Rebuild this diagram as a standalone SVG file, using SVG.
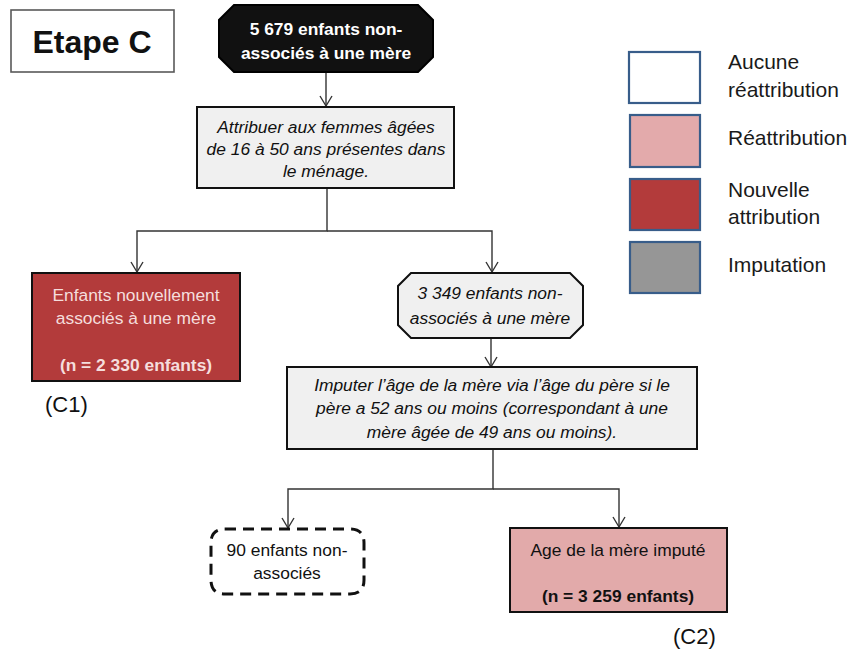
<svg xmlns="http://www.w3.org/2000/svg" width="855" height="649" viewBox="0 0 855 649">
<style>
.t{font-family:"Liberation Sans",Arial,sans-serif;font-size:17.4px;fill:#111;text-anchor:middle}
.i{font-style:italic}
.b{font-weight:bold}
.box{stroke:#111;stroke-width:2}
.leg{stroke:#385d8a;stroke-width:2.2}
.lt{font-family:"Liberation Sans",Arial,sans-serif;font-size:21px;fill:#1a1a1a}
.con{fill:none;stroke:#333;stroke-width:1.4}
.arr{marker-end:url(#arr)}
</style>
<defs>
<marker id="arr" markerUnits="userSpaceOnUse" markerWidth="14" markerHeight="16" refX="12" refY="8" orient="auto" viewBox="0 0 14 16">
<path d="M2,2 L12,8 L2,14" fill="none" stroke="#333" stroke-width="1.4"/>
</marker>
</defs>
<rect width="855" height="649" fill="#fff"/>

<g id="title">
<rect x="11" y="10" width="163" height="62" fill="#fff" stroke="#595959" stroke-width="1.6"/>
<text x="92" y="53" class="t b" style="font-size:32px">Etape C</text>
</g>

<g id="connectors">
<path class="con arr" d="M326,72 V106"/>
<path class="con arr" d="M327,188 V231 H137 V272"/>
<path class="con arr" d="M327,231 H492 V272"/>
<path class="con arr" d="M491,338 V367"/>
<path class="con arr" d="M493,449 V489 H288 V528"/>
<path class="con arr" d="M493,489 H619 V527"/>
</g>

<g id="start">
<polygon points="234,5 418,5 433,20 433,57 418,72 234,72 219,57 219,20" fill="#111" stroke="#000" stroke-width="2"/>
<text x="326" y="35" class="t b" style="fill:#fff">5 679 enfants non-</text>
<text x="326" y="59" class="t b" style="fill:#fff">associés à une mère</text>
</g>

<g id="attribuer">
<rect x="197" y="107" width="257" height="81" fill="#f0f0f0" class="box"/>
<text x="326" y="133" class="t i">Attribuer aux femmes âgées</text>
<text x="326" y="155" class="t i">de 16 à 50 ans présentes dans</text>
<text x="326" y="177" class="t i">le ménage.</text>
</g>

<g id="c1">
<rect x="32" y="273" width="208" height="108" fill="#b33b3b" class="box"/>
<text x="136" y="301" class="t" style="fill:#f5dedd">Enfants nouvellement</text>
<text x="136" y="324" class="t" style="fill:#f5dedd">associés à une mère</text>
<text x="136" y="371" class="t b" style="fill:#f5dedd">(n = 2 330 enfants)</text>
<text x="45" y="412" class="lt" style="font-size:22px;fill:#111">(C1)</text>
</g>

<g id="nonassocies">
<polygon points="411,273 570,273 583,286 583,325 570,338 411,338 398,325 398,286" fill="#f0f0f0" class="box"/>
<text x="490" y="299" class="t i">3 349 enfants non-</text>
<text x="490" y="324" class="t i">associés à une mère</text>
</g>

<g id="imputer">
<rect x="287" y="367" width="410" height="82" fill="#f0f0f0" class="box"/>
<text x="492" y="391" class="t i">Imputer l’âge de la mère via l’âge du père si le</text>
<text x="492" y="414" class="t i">père a 52 ans ou moins (correspondant à une</text>
<text x="492" y="438" class="t i">mère âgée de 49 ans ou moins).</text>
</g>

<g id="reste">
<path d="M225,529 H350 Q364,529 364,543 V580 Q364,594 350,594 H225 Q211,594 211,580 V543 Q211,529 225,529 Z" fill="#fff" stroke="#111" stroke-width="3" stroke-dasharray="11 7"/>
<text x="287" y="556" class="t">90 enfants non-</text>
<text x="287" y="579" class="t">associés</text>
</g>

<g id="c2">
<rect x="510" y="528" width="217" height="84" fill="#e2aaaa" class="box"/>
<text x="618" y="556" class="t">Age de la mère imputé</text>
<text x="618" y="602" class="t b">(n = 3 259 enfants)</text>
<text x="673" y="644" class="lt" style="font-size:22px;fill:#111">(C2)</text>
</g>

<g id="legend">
<rect x="629" y="52" width="71" height="51" fill="#fff" class="leg"/>
<rect x="630" y="115" width="70" height="52" fill="#e3aaab" class="leg"/>
<rect x="630" y="179" width="70" height="51" fill="#b33b3b" class="leg"/>
<rect x="630" y="242" width="70" height="51" fill="#969696" class="leg"/>
<text x="728" y="69" class="lt">Aucune</text>
<text x="728" y="97" class="lt">réattribution</text>
<text x="728" y="145" class="lt">Réattribution</text>
<text x="728" y="197" class="lt">Nouvelle</text>
<text x="728" y="224" class="lt">attribution</text>
<text x="728" y="272" class="lt">Imputation</text>
</g>
</svg>
